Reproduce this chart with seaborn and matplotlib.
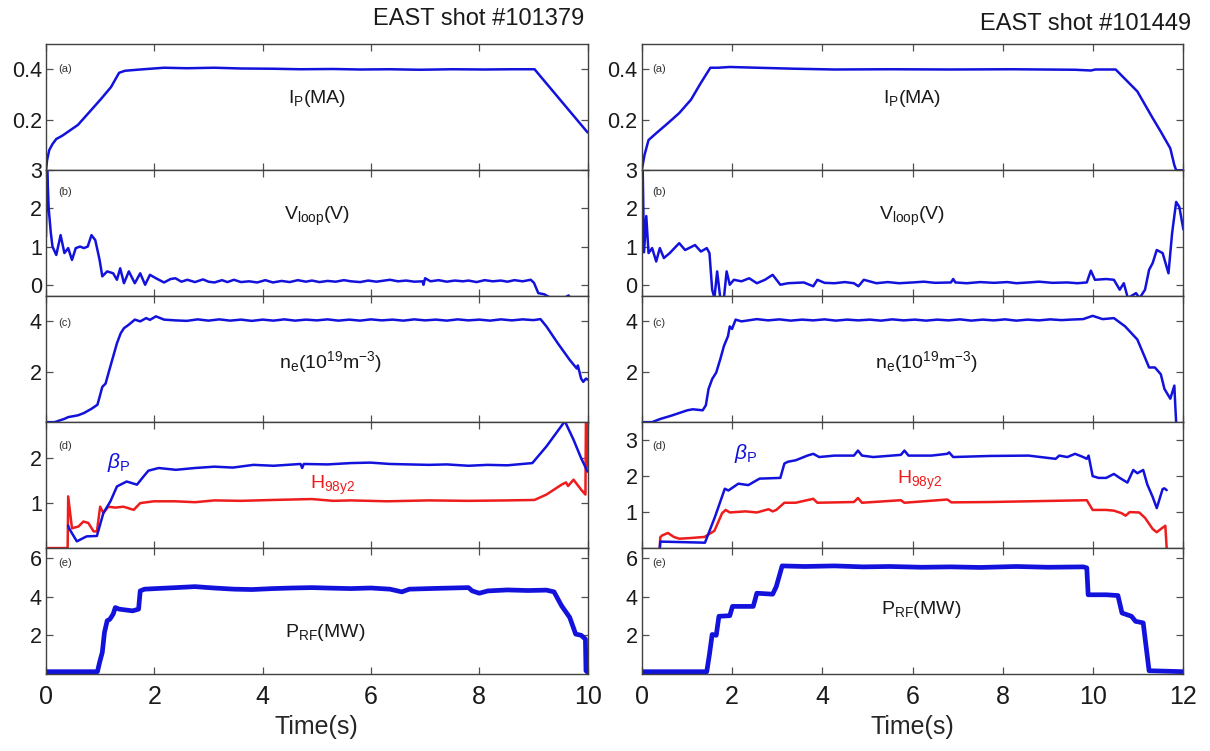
import matplotlib
matplotlib.use("Agg")
import matplotlib.pyplot as plt
import seaborn as sns

# ---------------- EAST shot #101379 ----------------
ip_a_t = [0, 0.02, 0.06, 0.12, 0.19, 0.3, 0.59, 0.88, 1.02, 1.2,
          1.35, 1.46, 1.74, 2.18, 2.6, 3.11, 3.6, 4.19, 4.7, 5.3,
          5.8, 6.35, 6.9, 7.5, 8.1, 8.6, 9.02, 10.0]
ip_a_v = [0, 0.04, 0.08, 0.104, 0.124, 0.137, 0.18, 0.25, 0.284, 0.33,
          0.387, 0.395, 0.4, 0.407, 0.405, 0.407, 0.404, 0.403, 0.401, 0.402,
          0.400, 0.401, 0.399, 0.401, 0.400, 0.401, 0.401, 0.15]

vl_a_t = [0, 0.02, 0.05, 0.09, 0.12, 0.19, 0.27, 0.34, 0.41, 0.48,
          0.55, 0.63, 0.70, 0.77, 0.84, 0.91, 0.99, 1.04, 1.13, 1.24,
          1.31, 1.37, 1.44, 1.53, 1.64, 1.74, 1.83, 1.92, 2.03, 2.18,
          2.3, 2.39, 2.5, 2.61, 2.75, 2.9, 3.0, 3.11, 3.25, 3.35,
          3.47, 3.6, 3.75, 3.9, 4.05, 4.19, 4.35, 4.5, 4.65, 4.8,
          4.91, 5.05, 5.2, 5.35, 5.5, 5.63, 5.8, 5.95, 6.1, 6.35,
          6.5, 6.65, 6.8, 6.95, 6.97, 7.0, 7.1, 7.25, 7.4, 7.55,
          7.7, 7.8, 7.95, 8.1, 8.25, 8.4, 8.52, 8.65, 8.8, 8.95,
          9.01, 9.09, 9.2, 9.3, 9.5, 9.65, 9.7, 10.0]
vl_a_v = [1.26, 3.1, 2.0, 1.35, 1.0, 0.78, 1.3, 0.83, 0.96, 0.65,
          0.96, 1.0, 0.96, 1.0, 1.3, 1.17, 0.65, 0.22, 0.35, 0.3,
          0.13, 0.43, 0.04, 0.35, 0.04, 0.3, 0.0, 0.26, 0.17, 0.06,
          0.15, 0.17, 0.08, 0.13, 0.07, 0.14, 0.08, 0.06, 0.12, 0.07,
          0.13, 0.07, 0.09, 0.06, 0.12, 0.06, 0.10, 0.07, 0.12, 0.08,
          0.11, 0.07, 0.10, 0.08, 0.12, 0.09, 0.07, 0.11, 0.08, 0.13,
          0.09, 0.11, 0.08, 0.09, 0.0, 0.17, 0.09, 0.12, 0.08, 0.11,
          0.09, 0.11, 0.07, 0.12, 0.09, 0.11, 0.08, 0.12, 0.09, 0.13,
          0.05, -0.22, -0.25, -0.33, -0.4, -0.28, -0.4, -0.45]

ne_a_t = [0, 0.16, 0.34, 0.41, 0.59, 0.7, 0.84, 0.95, 0.99, 1.04,
          1.1, 1.17, 1.24, 1.31, 1.38, 1.44, 1.53, 1.64, 1.74, 1.85,
          1.92, 2.03, 2.18, 2.39, 2.6, 2.8, 3.0, 3.2, 3.4, 3.6,
          3.8, 4.0, 4.2, 4.4, 4.6, 4.8, 5.0, 5.2, 5.4, 5.6,
          5.8, 6.0, 6.2, 6.4, 6.6, 6.8, 7.0, 7.2, 7.4, 7.6,
          7.8, 8.0, 8.2, 8.4, 8.6, 8.8, 9.0, 9.13, 9.24, 9.45,
          9.67, 9.8, 9.82, 9.88, 9.92, 9.97, 10.0]
ne_a_v = [0, 0, 0.13, 0.2, 0.27, 0.36, 0.53, 0.69, 1.0, 1.4,
          1.53, 2.07, 2.6, 3.13, 3.53, 3.73, 3.87, 4.07, 4.0, 4.13,
          4.06, 4.2, 4.07, 4.04, 4.02, 4.08, 4.03, 4.08, 4.03, 4.07,
          4.02, 4.07, 4.03, 4.08, 4.03, 4.07, 4.04, 4.08, 4.03, 4.07,
          4.03, 4.08, 4.04, 4.07, 4.03, 4.08, 4.04, 4.07, 4.03, 4.08,
          4.04, 4.07, 4.03, 4.08, 4.04, 4.08, 4.05, 4.09, 3.8, 3.13,
          2.47, 2.13, 2.25, 1.73, 1.6, 1.73, 1.69]

bp_a_t = [0.41, 0.42, 0.57, 0.75, 0.94, 1.06, 1.19, 1.31, 1.49, 1.68,
          1.8, 1.89, 2.08, 2.4, 2.75, 3.11, 3.45, 3.83, 4.2, 4.7,
          4.73, 4.76, 5.2, 5.63, 5.99, 6.35, 6.7, 7.07, 7.4, 7.8,
          8.15, 8.52, 8.98, 9.24, 9.58, 9.74, 9.88, 10.0]
bp_a_v = [0.5, 0.45, 0.15, 0.26, 0.27, 0.78, 1.04, 1.37, 1.48, 1.41,
          1.59, 1.72, 1.78, 1.74, 1.78, 1.81, 1.79, 1.85, 1.83, 1.87,
          1.78, 1.87, 1.86, 1.89, 1.9, 1.87, 1.86, 1.85, 1.86, 1.83,
          1.85, 1.84, 1.89, 2.26, 2.82, 2.41, 2.0, 1.7]

h98_a_t = [0, 0.40, 0.41, 0.48, 0.6, 0.69, 0.78, 0.88, 0.94, 1.0,
           1.06, 1.15, 1.28, 1.43, 1.62, 1.74, 1.99, 2.39, 2.75, 3.11,
           3.6, 4.19, 4.91, 5.3, 5.63, 6.3, 7.07, 7.8, 8.52, 9.02,
           9.24, 9.52, 9.6, 9.64, 9.74, 9.81, 9.88, 9.96, 9.97, 9.99,
           10.0]
h98_a_v = [0, 0, 1.15, 0.44, 0.48, 0.59, 0.56, 0.37, 0.37, 0.92,
           0.78, 0.92, 0.9, 0.92, 0.85, 1.0, 1.04, 1.04, 1.02, 1.06,
           1.05, 1.07, 1.09, 1.05, 1.06, 1.04, 1.06, 1.05, 1.06, 1.07,
           1.19, 1.41, 1.46, 1.38, 1.52, 1.41, 1.3, 1.19, 3.0, 3.0,
           1.8]

prf_a_t = [0, 0.95, 0.99, 1.04, 1.08, 1.13, 1.18, 1.24, 1.28, 1.35,
           1.46, 1.6, 1.71, 1.74, 1.82, 2.03, 2.4, 2.75, 3.1, 3.47,
           3.8, 4.19, 4.55, 4.91, 5.3, 5.63, 6.0, 6.35, 6.57, 6.71,
           7.2, 7.8, 7.87, 8.0, 8.16, 8.52, 8.9, 9.24, 9.38, 9.52,
           9.67, 9.78, 9.88, 9.96, 9.97, 10.0]
prf_a_v = [0.12, 0.12, 0.6, 1.12, 2.15, 2.75, 2.83, 3.09, 3.43, 3.35,
           3.31, 3.26, 3.35, 4.29, 4.38, 4.41, 4.46, 4.51, 4.44, 4.38,
           4.36, 4.41, 4.44, 4.46, 4.43, 4.41, 4.44, 4.38, 4.24, 4.38,
           4.42, 4.46, 4.29, 4.17, 4.29, 4.34, 4.31, 4.33, 4.24, 3.52,
           2.92, 2.06, 2.0, 1.8, 0.17, 0.09]

# ---------------- EAST shot #101449 ----------------
ip_b_t = [0, 0.06, 0.15, 0.32, 0.58, 0.83, 1.09, 1.31, 1.52, 1.69,
          1.95, 2.55, 3.4, 4.27, 5.5, 6.85, 8.2, 9.6, 9.95, 10.05,
          10.5, 10.98, 11.32, 11.5, 11.71, 11.8, 11.84, 12.0]
ip_b_v = [0, 0.06, 0.12, 0.147, 0.187, 0.227, 0.28, 0.347, 0.407, 0.407,
          0.41, 0.407, 0.403, 0.4, 0.401, 0.4, 0.401, 0.399, 0.396, 0.4,
          0.4, 0.313, 0.207, 0.153, 0.087, 0.02, 0, 0]

vl_b_t = [0, 0.02, 0.05, 0.1, 0.15, 0.23, 0.32, 0.4, 0.49, 0.62,
          0.83, 0.96, 1.18, 1.31, 1.44, 1.5, 1.56, 1.61, 1.67, 1.74,
          1.82, 1.88, 1.95, 2.04, 2.21, 2.38, 2.55, 2.73, 2.9, 3.07,
          3.24, 3.59, 3.8, 3.89, 4.05, 4.27, 4.5, 4.7, 4.8, 4.92,
          5.2, 5.45, 5.7, 6.0, 6.25, 6.5, 6.85, 6.9, 6.95, 7.2,
          7.5, 7.8, 8.1, 8.3, 8.57, 8.8, 9.1, 9.43, 9.65, 9.86,
          9.95, 10.04, 10.29, 10.46, 10.59, 10.68, 10.77, 10.95, 11.03, 11.15,
          11.24, 11.32, 11.41, 11.54, 11.67, 11.75, 11.84, 11.91, 12.0]
vl_b_v = [1.52, 3.1, 0.85, 1.8, 0.83, 0.96, 0.61, 0.96, 0.7, 0.83,
          1.09, 0.91, 1.04, 0.87, 0.96, 0.83, -0.13, -0.35, 0.35, -0.35,
          -0.35, 0.35, 0.0, 0.13, 0.09, 0.17, 0.04, 0.13, 0.26, 0.0,
          0.04, 0.06, -0.04, 0.13, 0.05, 0.04, 0.07, 0.04, -0.04, 0.13,
          0.04, 0.07, 0.04, 0.06, 0.08, 0.05, 0.06, 0.15, 0.06, 0.04,
          0.07, 0.05, 0.07, 0.04, 0.06, 0.08, 0.05, 0.06, 0.04, 0.06,
          0.37, 0.13, 0.15, 0.13, -0.13, 0.04, -0.35, -0.22, -0.35, -0.13,
          0.39, 0.57, 0.91, 0.83, 0.3, 1.35, 2.17, 2.04, 1.45]

ne_b_t = [0, 0.23, 0.4, 0.66, 1.01, 1.13, 1.35, 1.42, 1.48, 1.56,
          1.65, 1.74, 1.82, 1.91, 1.95, 2.0, 2.08, 2.21, 2.55, 2.8,
          3.05, 3.3, 3.55, 3.8, 4.05, 4.3, 4.55, 4.8, 5.05, 5.3,
          5.55, 5.8, 6.05, 6.3, 6.55, 6.8, 7.05, 7.3, 7.55, 7.8,
          8.05, 8.3, 8.55, 8.8, 9.05, 9.3, 9.5, 9.78, 9.99, 10.21,
          10.46, 10.71, 10.98, 11.15, 11.24, 11.37, 11.5, 11.58, 11.71, 11.8,
          11.82, 11.84]
ne_b_v = [0, 0, 0.12, 0.26, 0.47, 0.51, 0.47, 0.67, 1.32, 1.71,
          1.97, 2.5, 3.02, 3.41, 3.8, 3.7, 4.07, 4.0, 4.09, 4.04,
          4.08, 4.03, 4.07, 4.04, 4.08, 4.03, 4.07, 4.04, 4.07, 4.03,
          4.08, 4.04, 4.07, 4.03, 4.07, 4.04, 4.08, 4.03, 4.07, 4.04,
          4.08, 4.03, 4.07, 4.04, 4.08, 4.05, 4.07, 4.09, 4.22, 4.09,
          4.13, 3.8, 3.28, 2.56, 2.17, 2.17, 1.9, 1.32, 0.93, 1.45,
          0.67, 0.0]

bp_b_t = [0.4, 0.41, 1.4, 1.62, 1.84, 1.92, 2.14, 2.36, 2.61, 3.07,
          3.16, 3.24, 3.41, 3.67, 3.8, 3.93, 4.27, 4.7, 4.79, 4.88,
          5.13, 5.74, 5.82, 5.91, 6.42, 6.77, 6.81, 6.9, 7.71, 8.57,
          9.17, 9.25, 9.43, 9.6, 9.78, 9.86, 9.9, 9.99, 10.12, 10.29,
          10.46, 10.59, 10.76, 10.89, 10.98, 11.11, 11.2, 11.32, 11.41, 11.54,
          11.58, 11.63]
bp_b_v = [0.0, 0.18, 0.15, 0.86, 1.65, 1.6, 1.79, 1.75, 1.93, 1.95,
          2.35, 2.4, 2.44, 2.57, 2.62, 2.53, 2.57, 2.57, 2.71, 2.57,
          2.53, 2.59, 2.71, 2.57, 2.57, 2.62, 2.66, 2.53, 2.56, 2.57,
          2.48, 2.57, 2.53, 2.62, 2.53, 2.48, 2.57, 2.0, 1.95, 1.95,
          2.06, 1.95, 1.82, 2.17, 2.08, 2.17, 1.77, 1.42, 1.11, 1.64,
          1.66, 1.61]

h98_b_t = [0.4, 0.41, 0.45, 0.58, 0.71, 0.83, 1.09, 1.39, 1.61, 1.78,
           1.86, 1.95, 2.3, 2.55, 2.81, 2.9, 2.98, 3.16, 3.41, 3.8,
           3.89, 4.7, 4.79, 4.88, 5.74, 5.82, 6.77, 6.86, 7.71, 9.86,
           9.99, 10.29, 10.46, 10.63, 10.72, 10.81, 11.02, 11.15, 11.32, 11.41,
           11.5, 11.6, 11.63]
h98_b_v = [0, 0.3, 0.35, 0.42, 0.31, 0.26, 0.28, 0.31, 0.48, 0.97,
           1.06, 0.99, 1.02, 0.99, 1.08, 1.02, 1.06, 1.26, 1.26, 1.37,
           1.26, 1.28, 1.39, 1.26, 1.33, 1.26, 1.35, 1.27, 1.28, 1.33,
           1.06, 1.06, 1.04, 0.97, 0.9, 1.0, 0.99, 0.84, 0.53, 0.44,
           0.53, 0.62, 0.0]

prf_b_t = [0, 1.44, 1.5, 1.56, 1.65, 1.71, 1.95, 2.01, 2.47, 2.55,
           2.9, 2.98, 3.11, 3.6, 4.27, 4.9, 5.5, 6.2, 6.85, 7.5,
           8.3, 9.0, 9.78, 9.86, 9.89, 10.29, 10.55, 10.64, 10.85, 10.94,
           11.11, 11.15, 11.24, 12.0]
prf_b_v = [0.12, 0.12, 1.02, 2.04, 2.0, 2.98, 3.01, 3.49, 3.49, 4.17,
           4.12, 4.51, 5.58, 5.55, 5.58, 5.53, 5.55, 5.51, 5.53, 5.50,
           5.55, 5.51, 5.53, 5.48, 4.09, 4.09, 4.05, 3.15, 2.98, 2.72,
           2.64, 1.87, 0.17, 0.12]

shot_titles = ["EAST shot #101379", "EAST shot #101449"]
x_max = [10, 12]
panel_tags = ["(a)", "(b)", "(c)", "(d)", "(e)"]

BLUE = "#1212dc"
RED = "#ee1c1c"

sns.set_style("ticks")
plt.rcParams.update({
    "font.family": ["Liberation Sans", "DejaVu Sans"],
    "mathtext.fontset": "custom",
    "mathtext.rm": "Liberation Sans",
    "mathtext.it": "Liberation Sans:italic",
    "mathtext.bf": "Liberation Sans:bold",
    "axes.edgecolor": "#404040",
    "axes.linewidth": 1.0,
    "text.color": "#1a1a1a",
})

fig = plt.figure(figsize=(12.1, 7.51), dpi=100)
gs = fig.add_gridspec(5, 2, left=0.038, right=0.978, top=0.941,
                      bottom=0.1025, wspace=0.1, hspace=0)

shots = [
    dict(ip=(ip_a_t, ip_a_v), vl=(vl_a_t, vl_a_v), ne=(ne_a_t, ne_a_v),
         bp=(bp_a_t, bp_a_v), h98=(h98_a_t, h98_a_v), prf=(prf_a_t, prf_a_v)),
    dict(ip=(ip_b_t, ip_b_v), vl=(vl_b_t, vl_b_v), ne=(ne_b_t, ne_b_v),
         bp=(bp_b_t, bp_b_v), h98=(h98_b_t, h98_b_v), prf=(prf_b_t, prf_b_v)),
]


def trace(ax, series, color, lw=1.8):
    t, v = series
    sns.lineplot(x=t, y=v, ax=ax, color=color, linewidth=lw,
                 estimator=None, sort=False, legend=False)


for c, shot in enumerate(shots):
    axes = []
    for r in range(5):
        ax = fig.add_subplot(gs[r, c], sharex=axes[0] if axes else None)
        axes.append(ax)

    a_ip, a_vl, a_ne, a_h, a_rf = axes
    trace(a_ip, shot["ip"], BLUE)
    trace(a_vl, shot["vl"], BLUE)
    trace(a_ne, shot["ne"], BLUE)
    trace(a_h, shot["h98"], RED)
    trace(a_h, shot["bp"], BLUE)
    trace(a_rf, shot["prf"], BLUE, lw=3.4)

    a_ip.set_ylim(0, 0.5)
    a_ip.set_yticks([0.2, 0.4])
    a_ip.set_yticklabels(["0.2", "0.4"])
    a_vl.set_ylim(-0.3, 3)
    a_vl.set_yticks([0, 1, 2, 3])
    a_ne.set_ylim(0, 5)
    a_ne.set_yticks([2, 4])
    if c == 0:
        a_h.set_ylim(0, 2.8)
        a_h.set_yticks([1, 2])
    else:
        a_h.set_ylim(0, 3.5)
        a_h.set_yticks([1, 2, 3])
    a_rf.set_ylim(0, 6.5)
    a_rf.set_yticks([2, 4, 6])

    for r, ax in enumerate(axes):
        ax.set_xlim(0, x_max[c])
        ax.set_xticks(range(0, x_max[c] + 1, 2))
        ax.tick_params(axis="both", which="both", direction="in", top=True,
                       right=True, length=5, width=0.9, color="#505050")
        ax.tick_params(axis="y", labelsize=15.5, pad=3, labelcolor="#1a1a1a")
        ax.tick_params(axis="x", labelsize=18, pad=8, labelcolor="#1a1a1a")
        ax.set_ylabel("")
        if r < 4:
            ax.tick_params(axis="x", labelbottom=False)
            ax.set_xlabel("")
        tag_x = 0.022 if c == 0 else 0.019
        tag_y = [0.80, 0.825, 0.79, 0.81, 0.88][r]
        ax.text(tag_x, tag_y, panel_tags[r], transform=ax.transAxes,
                ha="left", va="center", fontsize=8, color="#333333")

    a_rf.set_xlabel("Time(s)", fontsize=18, labelpad=4)

    a_ip.text(0.5, 0.57, r"I$_\mathrm{P}$(MA)", transform=a_ip.transAxes,
              ha="center", va="center", fontsize=14)
    a_vl.text(0.5, 0.63, r"V$_\mathrm{loop}$(V)", transform=a_vl.transAxes,
              ha="center", va="center", fontsize=14)
    a_ne.text(0.525, 0.48, r"n$_\mathrm{e}$(10$^{19}$m$^{-3}$)",
              transform=a_ne.transAxes, ha="center", va="center", fontsize=14)
    a_rf.text(0.516, 0.33 if c == 0 else 0.51, r"P$_\mathrm{RF}$(MW)",
              transform=a_rf.transAxes, ha="center", va="center", fontsize=14)

    if c == 0:
        a_h.text(1.35, 1.9, r"$\beta_\mathrm{P}$", color=BLUE,
                 ha="center", va="center", fontsize=15)
        a_h.text(5.3, 1.4, r"H$_\mathrm{98y2}$", color=RED,
                 ha="center", va="center", fontsize=14)
    else:
        a_h.text(2.3, 2.62, r"$\beta_\mathrm{P}$", color=BLUE,
                 ha="center", va="center", fontsize=15)
        a_h.text(6.15, 1.88, r"H$_\mathrm{98y2}$", color=RED,
                 ha="center", va="center", fontsize=14)

fig.text(0.4826, 0.975, shot_titles[0], ha="right", va="center", fontsize=17)
fig.text(0.984, 0.968, shot_titles[1], ha="right", va="center", fontsize=17)

fig.savefig("out.png", dpi=100)
